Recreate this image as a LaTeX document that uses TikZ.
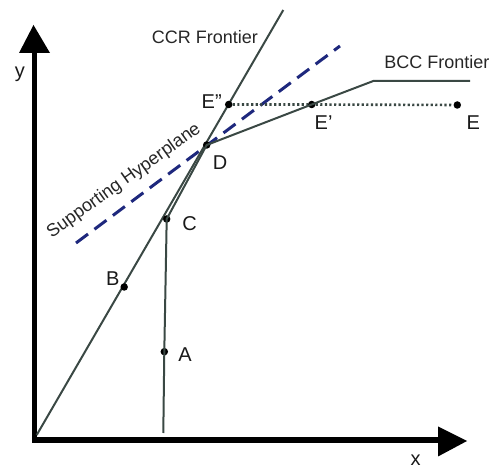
\documentclass[tikz,border=0pt]{standalone}
\usepackage{fontspec}
\setmainfont{Liberation Sans}
\begin{document}
\begin{tikzpicture}[x=1pt,y=-1pt,
  front/.style={draw=frontcol,line width=2pt},
  axis/.style={draw=black,line width=5.5pt},
  ptdot/.style={circle,fill=black,inner sep=0pt,minimum size=7.5pt},
  lbl/.style={font=\fontsize{18}{21}\selectfont,text=black!85},
  ltr/.style={font=\fontsize{20}{24}\selectfont,text=black!90,inner sep=0pt},
]
\definecolor{frontcol}{RGB}{58,72,68}
\definecolor{navycol}{RGB}{30,40,125}
\useasboundingbox (0,0) rectangle (491,468);
% axes
\coordinate (O) at (34.5,440);
\coordinate (ytop) at (34.5,50);
\coordinate (xend) at (440,440);
\draw[axis,line join=miter] (ytop) -- (O) -- (xend);
\fill[black] (33.5,25) -- (19,53) -- (50,53) -- cycle;
\fill[black] (467,441) -- (438,426.5) -- (438,456.5) -- cycle;
\node[ltr,anchor=base] (ylab) at (20,77.3) {y};
\node[ltr,anchor=base] (xlab) at (415.5,466) {x};
% points
\coordinate (O2) at (36.7,435);
\coordinate (ccrtop) at (283.3,10);
\coordinate (abot) at (163.3,433);
\coordinate (kink) at (373.3,81);
\coordinate (bccend) at (470,81);
% supporting hyperplane
\coordinate (h1) at (76,243);
\coordinate (h2) at (340,46);
\draw[navycol,line width=3pt,dash pattern=on 15pt off 8pt] (h1) -- (h2);
% CCR frontier
\draw[front] (O2) -- (ccrtop);
% BCC frontier
\node[ptdot] (A) at (164.3,351.7) {};
\node[ptdot] (B) at (124.2,287) {};
\node[ptdot] (C) at (166.7,219) {};
\node[ptdot] (D) at (206.7,145) {};
\node[ptdot] (Ep) at (311.7,104.5) {};
\node[ptdot] (E) at (457.3,105) {};
\node[ptdot] (Epp) at (228.7,104.5) {};
\draw[front] (abot) -- (A.center) -- (C.center) -- (D.center) -- (Ep.center) -- (kink) -- (bccend);
\draw[frontcol,line width=2.6pt,dash pattern=on 2.2pt off 2.4pt] (Epp) -- (Ep) -- (E);
% labels
\node[lbl] (ccrlab) at (205,37) {CCR Frontier};
\node[lbl] (bcclab) at (437,62.5) {BCC Frontier};
\node[lbl,rotate=35.5] (hyplab) at (124,181) {Supporting Hyperplane};
\node[ltr,anchor=base] (Alab) at (185,361.7) {A};
\node[ltr,anchor=base] (Blab) at (112.7,286) {B};
\node[ltr,anchor=base] (Clab) at (189.5,230.7) {C};
\node[ltr,anchor=base] (Dlab) at (220,170) {D};
\node[ltr,anchor=base west] (Epplab) at (201.5,108.3) {E”};
\node[ltr,anchor=base west] (Eplab) at (314.5,130) {E’};
\node[ltr,anchor=base west] (Elab) at (466.5,130) {E};
\end{tikzpicture}
\end{document}
